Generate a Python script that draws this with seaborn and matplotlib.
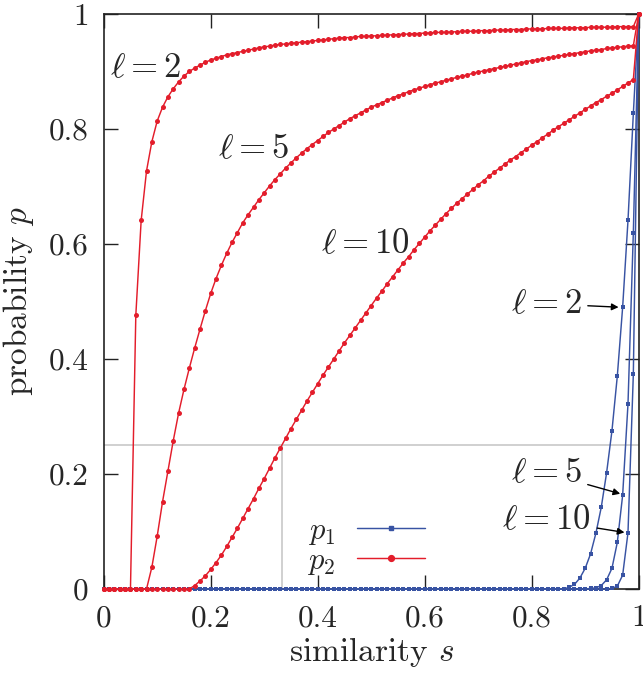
import numpy as np
import pandas as pd
import matplotlib
matplotlib.use("Agg")
import matplotlib.pyplot as plt
import seaborn as sns
from matplotlib.lines import Line2D

# similarity grid, step 0.01 as in the reference markers
s_grid = np.linspace(0.0, 1.0, 101)
ells = [2, 5, 10]

# p2 (red)
p2_l2 = [0.0] * 6 + [
    0.476, 0.641, 0.727, 0.778, 0.814, 0.838, 0.856, 0.870, 0.882, 0.892,
    0.900, 0.906, 0.911, 0.916, 0.920, 0.923, 0.926, 0.929, 0.931, 0.933,
    0.935, 0.937, 0.939, 0.941, 0.943, 0.944, 0.946, 0.947, 0.948, 0.949,
    0.950, 0.951, 0.952, 0.953, 0.954, 0.955, 0.956, 0.957, 0.958, 0.959,
    0.959, 0.960, 0.961, 0.961, 0.962, 0.962, 0.963, 0.963, 0.964, 0.964,
    0.965, 0.965, 0.966, 0.966, 0.967, 0.967, 0.968, 0.968, 0.968, 0.969,
    0.969, 0.970, 0.970, 0.970, 0.971, 0.971, 0.971, 0.972, 0.972, 0.972,
    0.973, 0.973, 0.973, 0.974, 0.974, 0.974, 0.974, 0.975, 0.975, 0.975,
    0.975, 0.976, 0.976, 0.976, 0.976, 0.977, 0.977, 0.977, 0.977, 0.977,
    0.978, 0.978, 0.978, 0.978, 1.000]
p2_l5 = [0.0] * 9 + [
    0.038, 0.092, 0.152, 0.205, 0.258, 0.306, 0.347, 0.384, 0.419, 0.452,
    0.484, 0.514, 0.540, 0.563, 0.584, 0.603, 0.620, 0.637, 0.651, 0.664,
    0.677, 0.689, 0.701, 0.712, 0.722, 0.732, 0.741, 0.750, 0.758, 0.766,
    0.773, 0.780, 0.787, 0.794, 0.800, 0.806, 0.812, 0.818, 0.823, 0.828,
    0.833, 0.838, 0.842, 0.846, 0.850, 0.854, 0.858, 0.861, 0.865, 0.868,
    0.871, 0.874, 0.877, 0.880, 0.882, 0.885, 0.887, 0.890, 0.892, 0.894,
    0.897, 0.899, 0.901, 0.903, 0.905, 0.907, 0.909, 0.911, 0.913, 0.915,
    0.917, 0.919, 0.920, 0.922, 0.924, 0.925, 0.927, 0.928, 0.930, 0.931,
    0.933, 0.934, 0.936, 0.937, 0.938, 0.940, 0.941, 0.942, 0.943, 0.944,
    0.945, 1.000]
p2_l10 = [0.0] * 17 + [
    0.006, 0.014, 0.023, 0.034, 0.046, 0.059, 0.074, 0.090, 0.106, 0.123,
    0.140, 0.157, 0.175, 0.192, 0.210, 0.228, 0.245, 0.262, 0.279, 0.295,
    0.311, 0.327, 0.342, 0.357, 0.372, 0.386, 0.400, 0.414, 0.428, 0.441,
    0.454, 0.467, 0.480, 0.493, 0.506, 0.518, 0.531, 0.543, 0.555, 0.567,
    0.578, 0.590, 0.601, 0.612, 0.623, 0.633, 0.643, 0.653, 0.662, 0.671,
    0.679, 0.687, 0.695, 0.703, 0.710, 0.718, 0.725, 0.732, 0.739, 0.746,
    0.752, 0.759, 0.765, 0.772, 0.778, 0.785, 0.791, 0.798, 0.804, 0.810,
    0.816, 0.822, 0.828, 0.834, 0.840, 0.846, 0.851, 0.857, 0.862, 0.868,
    0.874, 0.880, 0.886, 1.000]

# p1 (blue)
p1_l2 = [0.0] * 87 + [
    0.003, 0.008, 0.019, 0.036, 0.061, 0.097, 0.142, 0.202, 0.275, 0.370,
    0.490, 0.641, 0.827, 1.000]
p1_l5 = [0.0] * 91 + [
    0.001, 0.002, 0.006, 0.016, 0.036, 0.081, 0.163, 0.322, 0.620, 1.000]
p1_l10 = [0.0] * 95 + [0.001, 0.005, 0.024, 0.098, 0.374, 1.000]

# gray guide: p = 1/4 at s = 1/3
guide_s = 1.0 / 3.0
guide_p = 0.25

red_label_pos = [(0.079, 0.905), (0.281, 0.765), (0.490, 0.600)]
blue_label_pos = [(0.827, 0.496), (0.827, 0.202), (0.828, 0.120)]
blue_arrow_tip = [(0.965, 0.490), (0.968, 0.165), (0.976, 0.098)]

RED = "#e31d2b"
BLUE = "#3853a3"

rows = []
for name, curves in (("p1", [p1_l2, p1_l5, p1_l10]), ("p2", [p2_l2, p2_l5, p2_l10])):
    for ell, vals in zip(ells, curves):
        for s, p in zip(s_grid, vals):
            rows.append({"s": s, "p": p, "series": name, "ell": ell})
df = pd.DataFrame(rows)

sns.set_theme(style="ticks")
plt.rcParams["font.family"] = "serif"
plt.rcParams["font.serif"] = ["cmr10"]
plt.rcParams["mathtext.fontset"] = "cm"
plt.rcParams["axes.unicode_minus"] = False
FS_TICK = 22.5
FS_LAB = 24
FS_ELL = 25

fig = plt.figure(figsize=(6.43, 6.73), dpi=100)
ax = fig.add_axes([0.1613, 0.1248, 0.8320, 0.8544])

ax.axhline(guide_p, color="#c4c4c4", lw=1.1, zorder=1)
ax.plot([guide_s, guide_s], [0, guide_p], color="#c4c4c4", lw=1.1, zorder=1)

for name, color, marker, ms in (("p1", BLUE, "s", 3.0), ("p2", RED, "o", 3.6)):
    sub = df[df["series"] == name]
    sns.lineplot(data=sub, x="s", y="p", units="ell", estimator=None,
                 color=color, marker=marker, markersize=ms, markeredgewidth=0,
                 lw=1.05, sort=False, legend=False, ax=ax, clip_on=False, zorder=3)

for (x, y), ell in zip(red_label_pos, ells):
    ax.text(x, y, rf"$\ell = {ell}$", fontsize=FS_ELL, ha="center", va="center", zorder=5)
for (x, y), (tx, ty), ell in zip(blue_label_pos, blue_arrow_tip, ells):
    ax.annotate(rf"$\ell = {ell}$", xy=(tx, ty), xytext=(x, y), fontsize=FS_ELL,
                ha="center", va="center", zorder=5,
                arrowprops=dict(arrowstyle="-|>", color="black", lw=1.0,
                                mutation_scale=10, shrinkA=2, shrinkB=1))

handles = [Line2D([], [], color=BLUE, marker="s", markersize=3.5, lw=1.05),
           Line2D([], [], color=RED, marker="o", markersize=4.2, lw=1.05)]
leg = ax.legend(handles, [r"$p_1$", r"$p_2$"], loc="lower right",
                bbox_to_anchor=(0.63, -0.005), frameon=False, markerfirst=False,
                fontsize=22, handlelength=2.25, handletextpad=0.7, labelspacing=0.0,
                borderpad=0.0)
leg.set_zorder(6)

ax.set_xlim(0, 1)
ax.set_ylim(0, 1)
ticks = [0, 0.2, 0.4, 0.6, 0.8, 1]
tick_labels = ["0", "0.2", "0.4", "0.6", "0.8", "1"]
ax.set_xticks(ticks)
ax.set_xticklabels(tick_labels)
ax.set_yticks(ticks)
ax.set_yticklabels(tick_labels)
ax.tick_params(direction="in", length=10, width=1, top=True, right=True,
               labelsize=FS_TICK, pad=11, color="#222222")
for sp in ax.spines.values():
    sp.set_linewidth(1.2)
    sp.set_color("#222222")
ax.set_xlabel(r"similarity $s$", fontsize=FS_LAB, labelpad=2)
ax.set_ylabel(r"probability $p$", fontsize=FS_LAB, labelpad=9)

fig.savefig("out.png", dpi=100)
